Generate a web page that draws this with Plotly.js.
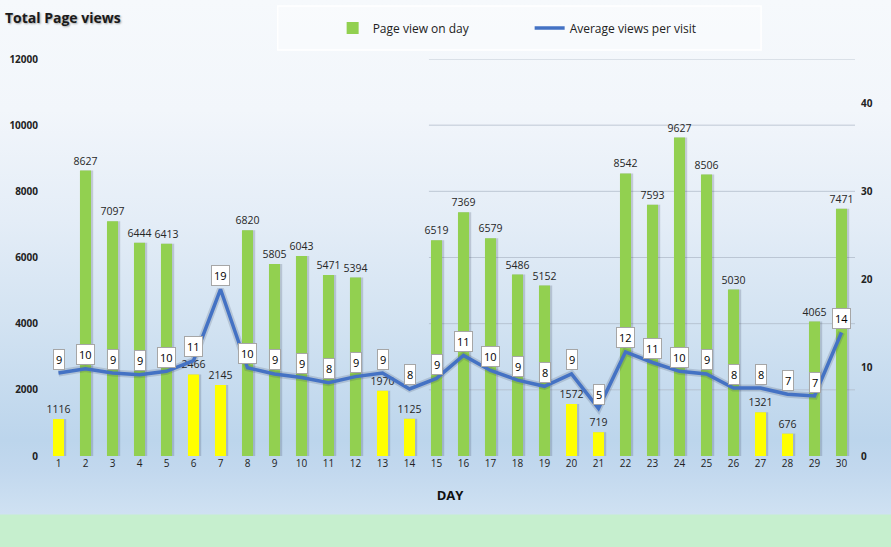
<!DOCTYPE html>
<html>
<head>
<meta charset="utf-8">
<script src="https://cdn.plot.ly/plotly-3.0.1.min.js"></script>
<style>
  html, body { margin: 0; padding: 0; }
  #chart {
    width: 891px; height: 547px;
    background: linear-gradient(to bottom,
      #F6F9FC 0px, #F2F6FB 110px, #E4EDF7 220px, #D3E3F2 320px,
      #BCD5EC 440px, #C2D8EE 470px, #CFE1F2 514px,
      #C6EFCE 515px, #C6EFCE 547px);
  }
</style>
</head>
<body>
<div id="chart"></div>
<script>
// ---- data ----
const days = [1,2,3,4,5,6,7,8,9,10,11,12,13,14,15,16,17,18,19,20,21,22,23,24,25,26,27,28,29,30];
const pageViews = [1116, 8627, 7097, 6444, 6413, 2466, 2145, 6820, 5805, 6043,
                   5471, 5394, 1970, 1125, 6519, 7369, 6579, 5486, 5152, 1572,
                   719, 8542, 7593, 9627, 8506, 5030, 1321, 676, 4065, 7471];
const avgViews = [9.4, 9.9, 9.4, 9.2, 9.6, 10.8, 18.9, 10.0, 9.3, 8.9,
                  8.3, 9.0, 9.4, 7.6, 8.8, 11.4, 9.7, 8.6, 7.9, 9.3,
                  5.4, 11.8, 10.6, 9.6, 9.3, 7.7, 7.7, 7.0, 6.8, 14.0];
const leftTicks = [0, 2000, 4000, 6000, 8000, 10000, 12000];
const rightTicks = [0, 10, 20, 30, 40];
const lowThreshold = 3000;

// ---- styling ----
const FONT = '"Open Sans", "Liberation Sans", sans-serif';
const GREEN = '#92D050', YELLOW = '#FFFF00', BLUE = '#4472C4';
const BARW = 0.41;

const greenVals = pageViews.map(v => v >= lowThreshold ? v : null);
const yellowVals = pageViews.map(v => v < lowThreshold ? v : null);

const traces = [
  { // soft shadow behind bars
    type: 'bar', x: days, y: pageViews, width: BARW + 0.06, offset: -BARW/2 + 0.02,
    marker: {color: 'rgba(60,70,95,0.22)'}, showlegend: false, hoverinfo: 'skip'
  },
  {
    type: 'bar', name: 'Page view on day', x: days, y: greenVals,
    width: BARW, offset: -BARW/2,
    marker: {color: GREEN},
    text: greenVals.map(v => v === null ? '' : String(v)),
    textposition: 'outside', cliponaxis: false, constraintext: 'none',
    textfont: {family: FONT, size: 10.5, color: '#262626'}
  },
  {
    type: 'bar', name: 'low', x: days, y: yellowVals,
    width: BARW, offset: -BARW/2,
    marker: {color: YELLOW}, showlegend: false,
    text: yellowVals.map(v => v === null ? '' : String(v)),
    textposition: 'outside', cliponaxis: false, constraintext: 'none',
    textfont: {family: FONT, size: 10.5, color: '#262626'}
  },
  { // line shadow
    type: 'scatter', mode: 'lines', x: days, y: avgViews, yaxis: 'y2',
    line: {color: 'rgba(50,60,90,0.18)', width: 7}, showlegend: false, hoverinfo: 'skip'
  },
  {
    type: 'scatter', mode: 'lines', name: 'Average views per visit',
    x: days, y: avgViews, yaxis: 'y2',
    line: {color: BLUE, width: 3.5}
  }
];

const annotations = days.map((d, i) => ({
  x: d, y: avgViews[i], xref: 'x', yref: 'y2',
  text: String(Math.round(avgViews[i])),
  showarrow: false, yshift: 14,
  bgcolor: '#FFFFFF', bordercolor: '#A6A6A6', borderwidth: 1, borderpad: 2,
  font: {family: FONT, size: 11, color: '#000'}
}));

const shapes = leftTicks.filter(t => t > 0).map(t => ({
  type: 'line', xref: 'paper', yref: 'y', x0: 0.474, x1: 1, y0: t, y1: t,
  line: {color: 'rgba(175,185,200,0.75)', width: 1}, layer: 'below'
}));
// legend frame
shapes.push({
  type: 'rect', xref: 'paper', yref: 'paper',
  x0: (278 - 45) / 811, x1: (762 - 45) / 811,
  y0: 1 + (59 - 50) / 397, y1: 1 + (59 - 6) / 397,
  fillcolor: 'rgba(255,255,255,0.35)', line: {color: '#FFFFFF', width: 1.5}, layer: 'below'
});

const layout = {
  width: 891, height: 547,
  margin: {l: 45, r: 36, t: 59, b: 91},
  paper_bgcolor: 'rgba(0,0,0,0)', plot_bgcolor: 'rgba(0,0,0,0)',
  font: {family: FONT, color: '#222'},
  barmode: 'overlay',
  title: {
    text: 'Total Page views', x: 5 / 891, xanchor: 'left', xref: 'container',
    y: 1 - 18 / 547, yanchor: 'middle', yref: 'container',
    font: {family: FONT, size: 14, weight: 'bold', color: '#1a1a1a',
           shadow: '1px 1px 2px rgba(0,0,0,0.35)'}
  },
  xaxis: {
    range: [0.5, 30.5], tickvals: days, ticktext: days.map(String),
    showgrid: false, zeroline: false, showline: false, ticks: '',
    tickfont: {family: FONT, size: 10, color: '#222'},
    title: {text: 'DAY', standoff: 21, font: {family: FONT, size: 13, weight: 'bold', color: '#111'}}
  },
  yaxis: {
    range: [0, 12000], tickvals: leftTicks, ticktext: leftTicks.map(String),
    showgrid: false, zeroline: false, showline: false, ticks: '',
    ticklabelstandoff: 6,
    tickfont: {family: FONT, size: 10, weight: 'bold', color: '#222'}
  },
  yaxis2: {
    range: [0, 45], overlaying: 'y', side: 'right',
    tickvals: rightTicks, ticktext: rightTicks.map(String),
    showgrid: false, zeroline: false, showline: false, ticks: '',
    ticklabelstandoff: 5,
    tickfont: {family: FONT, size: 10, weight: 'bold', color: '#222'}
  },
  legend: {
    orientation: 'h', x: (333 - 45) / 811, xanchor: 'left', y: 1 + (59 - 28) / 397, yanchor: 'middle',
    bgcolor: 'rgba(0,0,0,0)', borderwidth: 0, entrywidth: 152,
    font: {family: FONT, size: 12, color: '#222'}, itemwidth: 30
  },
  annotations: annotations,
  shapes: shapes,
  showlegend: true
};

Plotly.newPlot('chart', traces, layout, {displayModeBar: false, staticPlot: true});
</script>
</body>
</html>
